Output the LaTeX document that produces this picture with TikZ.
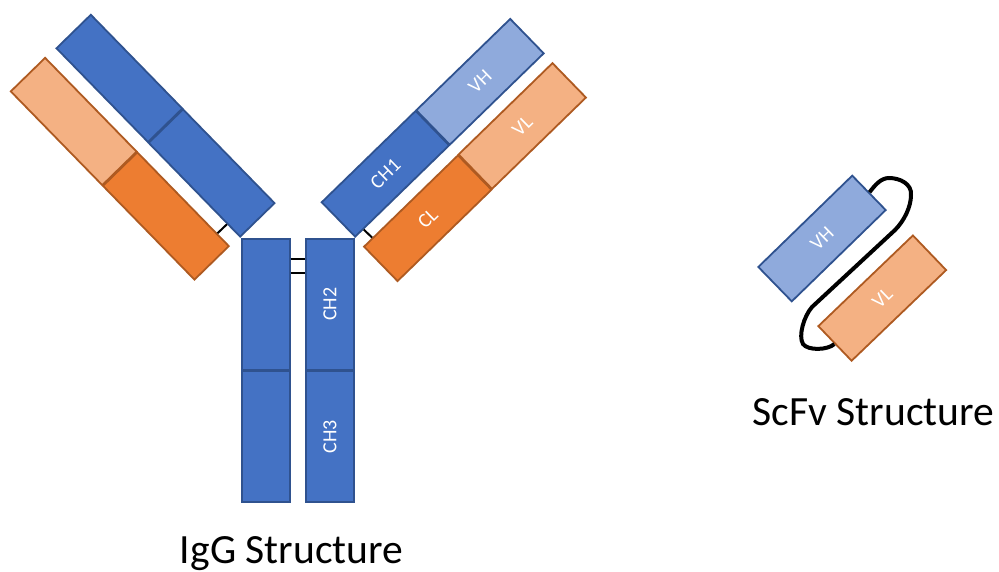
\documentclass[tikz,border=0pt]{standalone}
\usepackage{fontspec}
\usepackage{graphicx}
\setmainfont{Carlito}
\usetikzlibrary{calc}
\definecolor{hblue}{HTML}{4472C4}
\definecolor{vblue}{HTML}{8FAADC}
\definecolor{hedge}{HTML}{2F528F}
\definecolor{lorange}{HTML}{ED7D31}
\definecolor{vorange}{HTML}{F4B183}
\definecolor{ledge}{HTML}{AE5A21}
\begin{document}
\begin{tikzpicture}[x=1pt,y=-1pt,
  chainbox/.style={draw, line width=1.8pt, minimum width=131pt, minimum height=48pt,
    inner sep=0pt, text=white, font=\fontsize{20}{24}\selectfont},
  hvy/.style={chainbox, fill=hblue, draw=hedge},
  hvyv/.style={chainbox, fill=vblue, draw=hedge},
  lgt/.style={chainbox, fill=lorange, draw=ledge},
  lgtv/.style={chainbox, fill=vorange, draw=ledge},
  stembox/.style={hvy, minimum width=48pt, minimum height=130.5pt},
  bond/.style={draw=black, line width=2pt},
  linker/.style={draw=black, line width=4pt},
  title/.style={font=\fontsize{41.6}{50}\selectfont, anchor=base}]
\useasboundingbox (0,0) rectangle (999,571);

% IgG: left Fab arm
\node[hvy,  rotate=-45.7] (lvh)  at (119.4,78.4)  {};
\node[hvy,  rotate=-45.7] (lch1) at (211.6,173.0) {};
\node[lgtv, rotate=-45.7] (lvl)  at (73.7,121.5)  {};
\node[lgt,  rotate=-45.7] (lcl)  at (165.9,216.0) {};

% IgG: right Fab arm
\node[hvy,  rotate=44.2] (rch1) at (385.4,173.8)  {CH1};
\node[hvyv, rotate=44.2] (rvh)  at (480,81.8)     {VH};
\node[lgt,  rotate=44.2] (rcl)  at (427.75,218.2) {CL};
\node[lgtv, rotate=44.2] (rvl)  at (522.25,126)   {VL};

% IgG: Fc stem
\node[stembox] (lch2) at (265.7,304.2) {};
\node[stembox] (lch3) at (265.7,436.5) {};
\node[stembox] (rch2) at (330,304.2) {\rotatebox{90}{CH2}};
\node[stembox] (rch3) at (330,436.5) {\rotatebox{90}{CH3}};

% disulfide bonds
\draw[bond] ($(lch2.north east)!0.157!(lch2.south east)$) -- ($(rch2.north west)!0.157!(rch2.south west)$);
\draw[bond] ($(lch2.north east)!0.265!(lch2.south east)$) -- ($(rch2.north west)!0.265!(rch2.south west)$);
\draw[bond] ($(lcl.north east)!18pt!(lcl.north west)$) -- ($(lch1.south east)!19pt!(lch1.south west)$);
\draw[bond] ($(rch1.south west)!12pt!(rch1.south east)$) -- ($(rcl.north west)!13pt!(rcl.north east)$);

% ScFv
\node[hvyv, rotate=44.2] (svh) at (822,238.5)    {VH};
\node[lgtv, rotate=43.8] (svl) at (882.25,298.1) {VL};
\draw[linker] (svh.east) .. controls (875,185) and (881,178) .. (889,178)
  .. controls (900,178) and (912,184) .. (911,195)
  .. controls (911,207) and (904,221) .. (895,230) -- (812,307)
  .. controls (804,316) and (798,336) .. (803,344)
  .. controls (808,351) and (828,350) .. (svl.west);

% captions
\node[title] (igg)  at (291.5,563) {IgG Structure};
\node[title] (scfv) at (873.4,425) {ScFv Structure};
\end{tikzpicture}
\end{document}
